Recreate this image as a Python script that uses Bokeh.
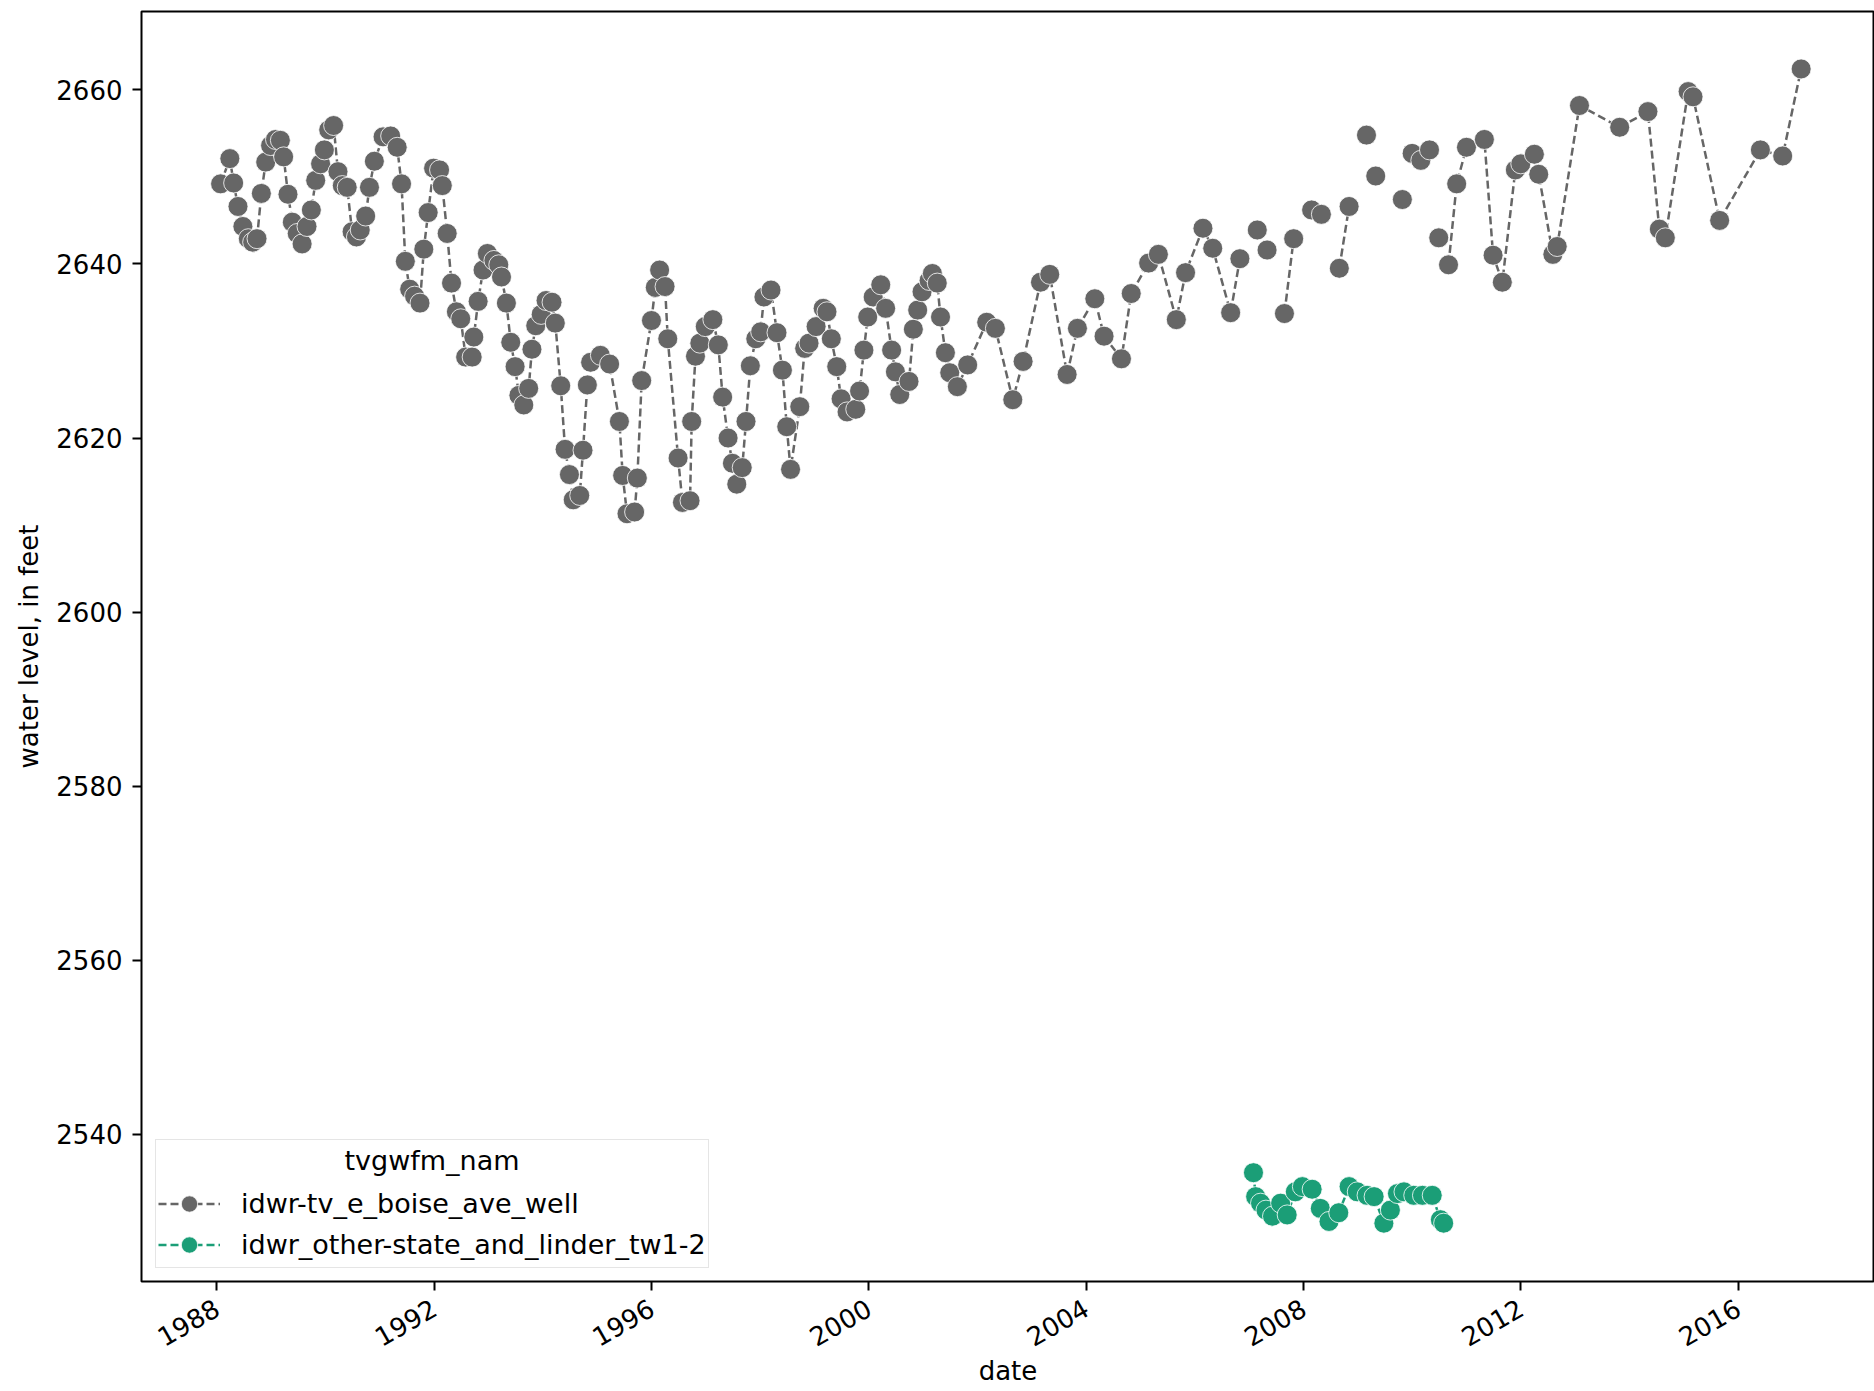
import math
from bokeh.plotting import figure
from bokeh.models import Range1d, FixedTicker, Legend, LegendItem, Label
from bokeh.embed import file_html
from bokeh.resources import INLINE
from bokeh.core.properties import value

nan = float("nan")

legend_title = "tvgwfm_nam"
series_names = ["idwr-tv_e_boise_ave_well", "idwr_other-state_and_linder_tw1-2"]
series_colors = ["#666666", "#1b9e77"]
x_label = "date"
y_label = "water level, in feet"
x_ticks = [1988, 1992, 1996, 2000, 2004, 2008, 2012, 2016]
y_ticks = [2540, 2560, 2580, 2600, 2620, 2640, 2660]

# idwr-tv_e_boise_ave_well (decimal years, feet); nan marks missing observations
boise_years = [
    1988.07, 1988.24, 1988.31, 1988.39, 1988.48, 1988.58, 1988.66, 1988.74, 1988.82, 1988.90,
    1988.99, 1989.08, 1989.17, 1989.23, 1989.31, 1989.39, 1989.48, 1989.57, 1989.66, 1989.74,
    1989.82, 1989.91, 1989.98, 1990.06, 1990.15, 1990.23, 1990.31, 1990.40, 1990.49, 1990.57,
    1990.64, 1990.74, 1990.81, 1990.90, 1991.06, 1991.20, 1991.32, 1991.40, 1991.47, 1991.55,
    1991.64, 1991.74, 1991.81, 1991.89, 1991.99, 1992.10, 1992.15, 1992.24, 1992.32, 1992.41,
    1992.49, 1992.58, 1992.70, 1992.73, 1992.81, 1992.90, 1992.98, 1993.10, 1993.19, 1993.24,
    1993.33, 1993.41, 1993.49, 1993.56, 1993.65, 1993.74, 1993.80, 1993.87, 1993.97, 1994.06,
    1994.17, 1994.23, 1994.33, 1994.41, 1994.49, 1994.56, 1994.68, 1994.74, 1994.82, 1994.88,
    1995.06, 1995.23, 1995.41, 1995.47, 1995.55, 1995.69, 1995.74, 1995.82, 1996.00, 1996.07,
    1996.15, 1996.25, 1996.30, 1996.49, 1996.57, 1996.71, 1996.74, 1996.81, 1996.89, 1996.99,
    1997.13, 1997.23, 1997.31, 1997.41, 1997.49, 1997.57, 1997.67, 1997.74, 1997.82, 1997.92,
    1998.01, 1998.07, 1998.20, 1998.31, 1998.41, 1998.49, 1998.56, 1998.73, 1998.82, 1998.90,
    1999.03, 1999.16, 1999.23, 1999.31, 1999.41, 1999.49, 1999.60, 1999.76, 1999.83, 1999.91,
    1999.98, 2000.08, 2000.22, 2000.31, 2000.42, 2000.49, 2000.57, 2000.74, 2000.82, 2000.90,
    2000.98, 2001.11, 2001.17, 2001.26, 2001.32, 2001.41, 2001.49, 2001.63, 2001.82, 2002.17,
    2002.33, 2002.65, 2002.84, 2003.16, 2003.33, 2003.65, 2003.84, 2004.16, 2004.33, 2004.65,
    2004.83, 2005.15, 2005.33, 2005.66, 2005.83, 2006.15, 2006.33, 2006.66, 2006.83, nan,
    2007.15, nan, 2007.33, nan, 2007.65, 2007.82, nan, 2008.15, 2008.33, nan,
    2008.66, 2008.84, nan, 2009.16, nan, 2009.33, nan, 2009.82, nan, 2010.00,
    2010.16, 2010.32, nan, 2010.49, nan, 2010.67, 2010.82, 2011.00, 2011.33, 2011.49,
    2011.66, 2011.90, 2012.00, 2012.25, 2012.33, 2012.59, 2012.67, 2013.08, 2013.82, 2014.34,
    2014.55, 2014.66, 2015.08, 2015.17, 2015.66, 2016.41, 2016.82, 2017.16,
]
boise_levels = [
    2649.2, 2652.1, 2649.3, 2646.6, 2644.3, 2642.9, 2642.5, 2642.9, 2648.1, 2651.7,
    2653.6, 2654.3, 2654.2, 2652.3, 2648.0, 2644.8, 2643.5, 2642.3, 2644.3, 2646.2,
    2649.6, 2651.5, 2653.1, 2655.4, 2655.9, 2650.6, 2649.0, 2648.8, 2643.7, 2643.1,
    2643.9, 2645.5, 2648.8, 2651.8, 2654.6, 2654.7, 2653.4, 2649.2, 2640.3, 2637.1,
    2636.3, 2635.5, 2641.7, 2645.9, 2651.0, 2650.8, 2649.0, 2643.5, 2637.8, 2634.5,
    2633.7, 2629.3, 2629.3, 2631.6, 2635.7, 2639.3, 2641.2, 2640.4, 2639.9, 2638.5,
    2635.5, 2631.0, 2628.2, 2624.9, 2623.8, 2625.7, 2630.2, 2632.9, 2634.2, 2635.8,
    2635.6, 2633.2, 2626.0, 2618.7, 2615.8, 2612.9, 2613.4, 2618.6, 2626.1, 2628.7,
    2629.5, 2628.5, 2621.9, 2615.7, 2611.3, 2611.5, 2615.4, 2626.6, 2633.5, 2637.3,
    2639.3, 2637.4, 2631.4, 2617.7, 2612.6, 2612.8, 2621.9, 2629.4, 2630.9, 2632.8,
    2633.6, 2630.7, 2624.7, 2620.0, 2617.1, 2614.7, 2616.6, 2621.9, 2628.3, 2631.4,
    2632.2, 2636.2, 2637.0, 2632.1, 2627.8, 2621.3, 2616.4, 2623.6, 2630.3, 2630.9,
    2632.8, 2634.9, 2634.5, 2631.4, 2628.2, 2624.5, 2623.0, 2623.3, 2625.4, 2630.1,
    2633.9, 2636.2, 2637.6, 2634.9, 2630.1, 2627.6, 2625.0, 2626.5, 2632.5, 2634.7,
    2636.8, 2638.1, 2638.9, 2637.8, 2633.9, 2629.8, 2627.5, 2625.9, 2628.4, 2633.3,
    2632.6, 2624.4, 2628.8, 2637.9, 2638.8, 2627.3, 2632.6, 2636.0, 2631.7, 2629.1,
    2636.6, 2640.1, 2641.1, 2633.6, 2639.0, 2644.1, 2641.8, 2634.4, 2640.6, nan,
    2643.9, nan, 2641.6, nan, 2634.3, 2642.9, nan, 2646.2, 2645.7, nan,
    2639.5, 2646.6, nan, 2654.8, nan, 2650.1, nan, 2647.4, nan, 2652.7,
    2651.9, 2653.1, nan, 2643.0, nan, 2639.9, 2649.2, 2653.4, 2654.3, 2641.0,
    2637.9, 2650.8, 2651.5, 2652.6, 2650.3, 2641.1, 2642.0, 2658.2, 2655.7, 2657.5,
    2644.0, 2643.0, 2659.8, 2659.2, 2645.0, 2653.1, 2652.4, 2662.4,
]

# idwr_other-state_and_linder_tw1-2
linder_years = [
    2007.08, 2007.12, 2007.21, 2007.31, 2007.43, 2007.58, 2007.70, 2007.85, 2007.98, 2008.16,
    2008.31, 2008.47, 2008.65, 2008.84, 2008.99, 2009.17, 2009.30, 2009.48, 2009.60, 2009.73,
    2009.85, 2010.03, 2010.19, 2010.37, 2010.52, 2010.58,
]
linder_levels = [
    2535.6, 2532.85, 2532.1, 2531.3, 2530.6, 2532.1, 2530.75, 2533.4, 2534.0, 2533.7,
    2531.5, 2530.0, 2531.0, 2534.0, 2533.4, 2533.0, 2532.85, 2529.8, 2531.3, 2533.2,
    2533.4, 2533.0, 2533.0, 2533.0, 2530.2, 2529.8,
]

FONT = "DejaVu Sans"
FS = "26px"
LEG_FS = "27px"

X0, X1 = 1986.614, 2018.51
Y0, Y1 = 2523.1, 2669.0

p = figure(
    width=1874, height=1391,
    output_backend="svg", toolbar_location=None,
    x_range=Range1d(X0, X1), y_range=Range1d(Y0, Y1),
    min_border_left=141, min_border_right=0, min_border_top=11, min_border_bottom=110,
)
p.background_fill_color = "white"
p.border_fill_color = "white"
p.outline_line_color = "black"
p.outline_line_width = 2
p.grid.visible = False

for ax in (p.xaxis[0], p.yaxis[0]):
    ax.axis_line_color = None
    ax.major_tick_line_color = "black"
    ax.major_tick_line_width = 2
    ax.major_tick_out = 9
    ax.major_tick_in = 0
    ax.minor_tick_line_color = None
    ax.major_label_text_font = FONT
    ax.major_label_text_font_size = FS
    ax.major_label_text_color = "black"
    ax.axis_label_text_font = FONT
    ax.axis_label_text_font_size = FS
    ax.axis_label_text_font_style = "normal"
    ax.axis_label_text_color = "black"

p.xaxis.ticker = FixedTicker(ticks=x_ticks)
p.yaxis.ticker = FixedTicker(ticks=y_ticks)
p.xaxis.axis_label = x_label
p.yaxis.axis_label = y_label
p.xaxis.major_label_orientation = math.pi / 6
p.xaxis.major_label_standoff = 15
p.xaxis.axis_label_standoff = -3
p.yaxis.major_label_standoff = 10
p.yaxis.axis_label_standoff = 9

renderers = []
for xs, ys, color in ((boise_years, boise_levels, series_colors[0]),
                      (linder_years, linder_levels, series_colors[1])):
    ln = p.line(xs, ys, line_color=color, line_width=2.5, line_dash="8 4")
    sc = p.scatter(xs, ys, size=20, fill_color=color, line_color="white", line_width=0.8)
    renderers.append((ln, sc))

title_row = p.scatter(x=[], y=[], size=1, fill_alpha=0, line_alpha=0)

legend = Legend(
    items=[
        LegendItem(label=value(""), renderers=[title_row]),
        LegendItem(label=series_names[0], renderers=list(renderers[0])),
        LegendItem(label=series_names[1], renderers=list(renderers[1])),
    ],
    location=(14, 13), margin=0, padding=2, spacing=0,
    label_height=41, glyph_height=41, glyph_width=62, label_standoff=21,
    label_text_font=FONT, label_text_font_size=LEG_FS, label_text_color="black",
    border_line_color="#cccccc", border_line_width=1.5,
    background_fill_color="white", background_fill_alpha=0.0,
)
p.add_layout(legend)

p.add_layout(Label(x=1991.96, y=2537.0, text=legend_title, text_align="center",
                   text_baseline="middle", text_font=FONT, text_font_size=LEG_FS,
                   text_color="black", level="overlay"))

open("out.html", "w").write(file_html(p, INLINE))
